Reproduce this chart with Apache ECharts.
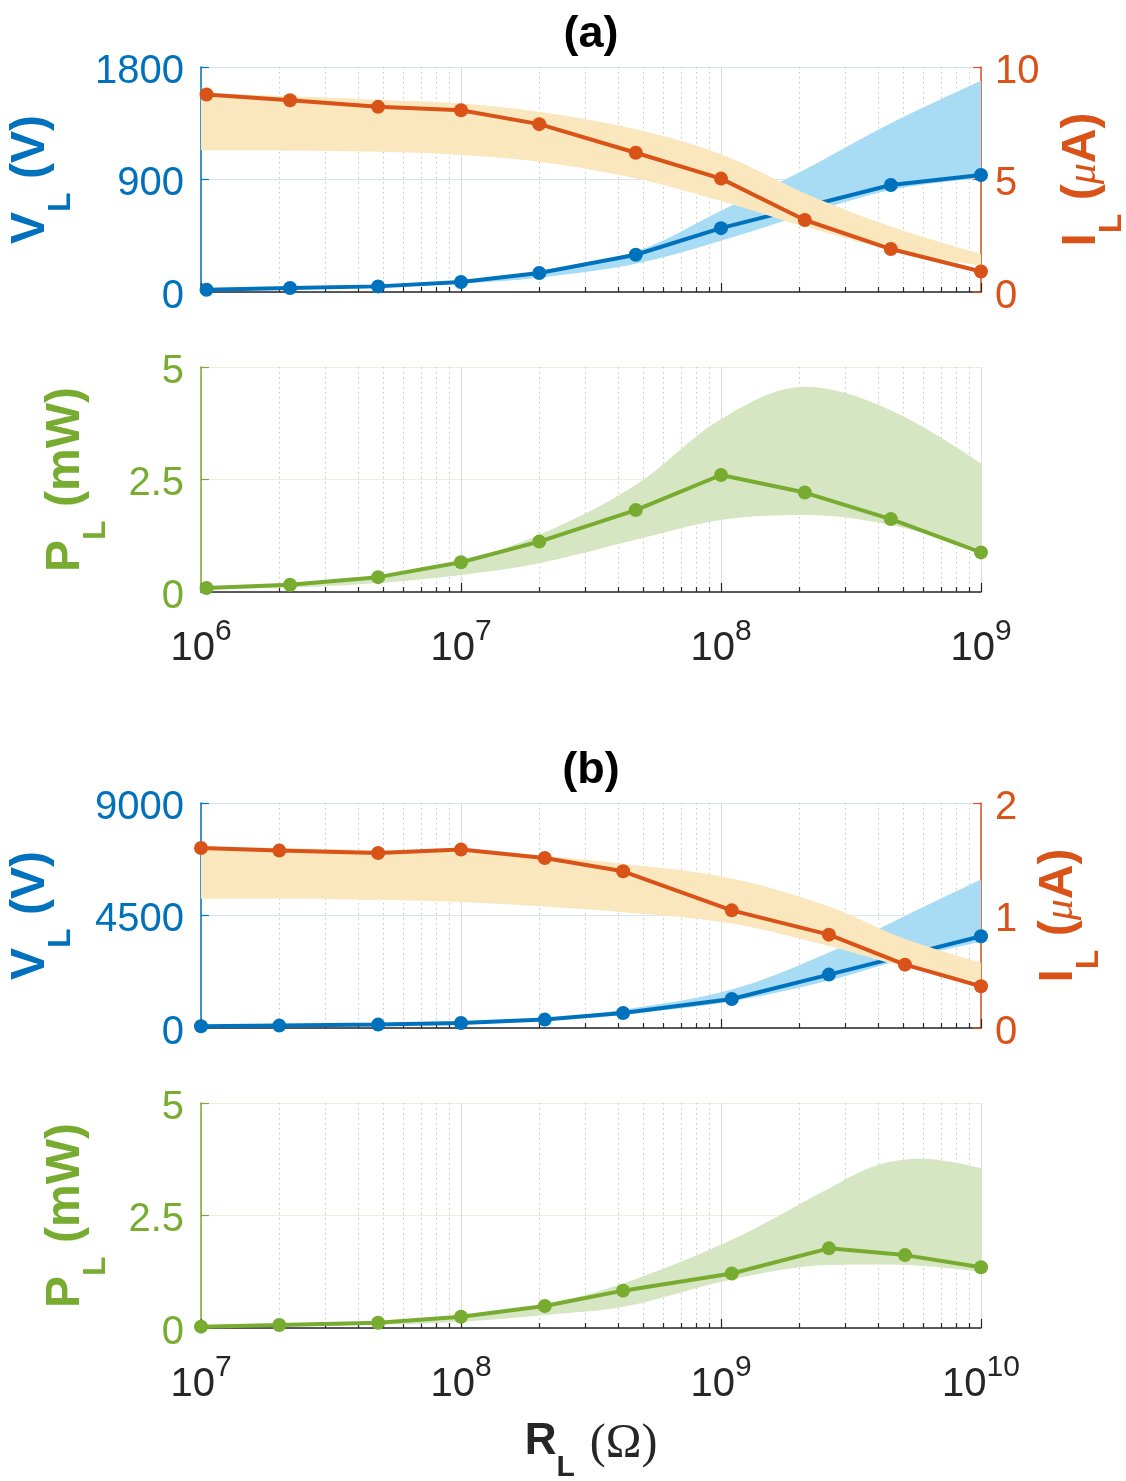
<!DOCTYPE html>
<html><head><meta charset="utf-8">
<script src="https://cdn.jsdelivr.net/npm/echarts@6/dist/echarts.min.js"></script>
<style>html,body{margin:0;padding:0;background:#fff}#c{width:1126px;height:1481px}</style>
</head><body><div id="c"></div>
<script>
// ---------------- data ----------------
// panel (a): R_L from 1e6 to 1e9 ohm
const R_A   = [1.05e6, 2.2e6, 4.8e6, 1e7, 2e7, 4.7e7, 1e8, 2.1e8, 4.5e8, 1e9];
const R_A_V = [1.05e6, 2.2e6, 4.8e6, 1e7, 2e7, 4.7e7, 1e8, 4.5e8, 1e9];
const V_A   = [18, 32, 45, 80, 152, 298, 511, 856, 936];                 // V
const I_A   = [8.78, 8.52, 8.23, 8.08, 7.46, 6.19, 5.04, 3.20, 1.91, 0.91]; // uA
const P_A   = [0.09, 0.16, 0.33, 0.66, 1.12, 1.82, 2.60, 2.21, 1.62, 0.88]; // mW

const BR_A     = [1e6, 2.2e6, 4.8e6, 1e7, 2e7, 4.7e7, 1e8, 2.1e8, 4.5e8, 1e9];
const V_A_HI   = [20, 34, 50, 88, 170, 324, 650, 980, 1350, 1690];
const V_A_LO   = [14, 26, 38, 68, 115, 226, 410, 620, 816, 912];
const I_A_HI   = [8.85, 8.70, 8.55, 8.38, 8.01, 7.23, 6.12, 4.39, 2.91, 1.69];
const I_A_LO   = [6.30, 6.28, 6.23, 6.09, 5.79, 5.05, 4.05, 2.91, 1.88, 1.17];
const P_A_HI   = [0.12, 0.19, 0.36, 0.68, 1.27, 2.38, 3.84, 4.56, 4.04, 2.86];
const P_A_LO   = [0.06, 0.10, 0.20, 0.38, 0.64, 1.16, 1.60, 1.71, 1.49, 0.95];

// panel (b): R_L from 1e7 to 1e10 ohm
const R_B   = [1e7, 2e7, 4.8e7, 1e8, 2.1e8, 4.2e8, 1.1e9, 2.6e9, 5.1e9, 1e10];
const R_B_V = [1e7, 2e7, 4.8e7, 1e8, 2.1e8, 4.2e8, 1.1e9, 2.6e9, 1e10];
const V_B   = [68, 96, 136, 200, 336, 600, 1160, 2136, 3668];
const I_B   = [1.60, 1.577, 1.556, 1.586, 1.511, 1.393, 1.046, 0.830, 0.563, 0.371];
const P_B   = [0.03, 0.066, 0.118, 0.25, 0.49, 0.83, 1.21, 1.77, 1.62, 1.35];

const BR_B     = [1e7, 2e7, 4.8e7, 1e8, 2.1e8, 4.2e8, 1.1e9, 2.6e9, 5e9, 1e10];
const V_B_HI   = [70, 100, 150, 230, 400, 734, 1536, 3020, 4440, 5940];
const V_B_LO   = [60, 85, 120, 180, 300, 534, 1068, 1900, 2736, 3450];
const I_B_HI   = [1.615, 1.60, 1.58, 1.56, 1.53, 1.46, 1.33, 1.08, 0.80, 0.58];
const I_B_LO   = [1.15, 1.15, 1.14, 1.12, 1.08, 1.03, 0.93, 0.73, 0.55, 0.41];
const BR_B_P   = [1e7, 2e7, 4.8e7, 1e8, 2.1e8, 4.2e8, 1.1e9, 2.6e9, 4e9, 6e9, 1e10];
const P_B_HI   = [0.035, 0.07, 0.14, 0.27, 0.53, 0.99, 1.96, 3.10, 3.62, 3.76, 3.55];
const P_B_LO   = [0.02, 0.035, 0.07, 0.14, 0.29, 0.47, 1.08, 1.40, 1.41, 1.38, 1.25];

// axis ticks
const MINOR_A = [2e6,3e6,4e6,5e6,6e6,7e6,8e6,9e6, 2e7,3e7,4e7,5e7,6e7,7e7,8e7,9e7, 2e8,3e8,4e8,5e8,6e8,7e8,8e8,9e8];
const MINOR_B = [2e7,3e7,4e7,5e7,6e7,7e7,8e7,9e7, 2e8,3e8,4e8,5e8,6e8,7e8,8e8,9e8, 2e9,3e9,4e9,5e9,6e9,7e9,8e9,9e9];

// ---------------- styles ----------------
const COL_V = '#0072BD', COL_I = '#D95319', COL_P = '#77AC30';
const BAND_V = '#a7dcf4', BAND_I = '#fae7bd', BAND_P = '#d6e6c2';
const AX = '#262626';
const FONT = 'Liberation Sans', SERIF = 'Liberation Serif';

const zip = (a, b) => a.map((v, i) => [v, b[i]]);

function xAx(gi, min, max, showLabels) {
  return {
    type: 'log', logBase: 10, gridIndex: gi, min: min, max: max,
    axisLine: { show: true, onZero: false, lineStyle: { color: AX, width: 1.5 } },
    axisTick: { show: true, inside: true, length: 9, lineStyle: { color: AX, width: 1.2 } },
    axisLabel: {
      show: showLabels, margin: 25, color: AX, hideOverlap: false,
      formatter: v => '{b|10}{s|' + Math.round(Math.log10(v)) + '}',
      rich: {
        b: { fontSize: 40, lineHeight: 40, fontFamily: FONT, color: AX, verticalAlign: 'top', padding: [11.5, 0, 0, 0] },
        s: { fontSize: 30, lineHeight: 30, fontFamily: FONT, color: AX, verticalAlign: 'top' }
      }
    },
    splitLine: { show: true, lineStyle: { color: '#dcdcdc', width: 1 } },
    minorTick: { show: false }, minorSplitLine: { show: false }
  };
}

function nameRich(color) {
  return {
    color: color, fontFamily: FONT, fontWeight: 'bold', fontSize: 48,
    rich: {
      m: { fontSize: 48, lineHeight: 48, fontWeight: 'bold', color: color, fontFamily: FONT, verticalAlign: 'top' },
      s: { fontSize: 32, lineHeight: 32, fontWeight: 'bold', color: color, fontFamily: FONT, verticalAlign: 'top', padding: [38, 0, 0, 0] },
      u: { fontSize: 42, lineHeight: 42, fontWeight: 'normal', fontStyle: 'italic', color: color, fontFamily: SERIF, verticalAlign: 'top', padding: [5, 0, 0, 0] }
    }
  };
}

function yAx(gi, pos, min, max, interval, color, name, nameGap, splitColor) {
  return {
    type: 'value', gridIndex: gi, position: pos, min: min, max: max, interval: interval,
    axisLine: { show: true, onZero: false, lineStyle: { color: color, width: 1.5 } },
    axisTick: { show: true, inside: true, length: 8, lineStyle: { color: color, width: 1.2 } },
    axisLabel: { color: color, fontSize: 40, fontFamily: FONT, margin: pos === 'left' ? 17 : 14,
                 verticalAlign: 'top', lineHeight: 9, formatter: v => String(v) },
    splitLine: { show: !!splitColor, lineStyle: { color: splitColor || '#eee', width: 1 } },
    name: name, nameLocation: 'middle', nameRotate: 90, nameGap: nameGap, nameMoveOverlap: false,
    nameTextStyle: nameRich(color)
  };
}

function lineS(xi, yi, data, color, z) {
  return {
    type: 'line', xAxisIndex: xi, yAxisIndex: yi, data: data, z: z, clip: false,
    symbol: 'circle', symbolSize: 14, showSymbol: true,
    lineStyle: { color: color, width: 4 }, itemStyle: { color: color }, silent: true
  };
}

// band = invisible lower line + stacked (upper - lower) area; value column first so y is the stacked dim
function bandS(xi, yi, xs, lo, hi, color, z, id) {
  const sm = 0.35;
  return [
    { type: 'line', xAxisIndex: xi, yAxisIndex: yi, stack: id, z: z, smooth: sm, symbol: 'none', silent: true,
      encode: { x: 1, y: 0 }, data: zip(lo, xs), lineStyle: { width: 0, opacity: 0 } },
    { type: 'line', xAxisIndex: xi, yAxisIndex: yi, stack: id, z: z, smooth: sm, symbol: 'none', silent: true,
      encode: { x: 1, y: 0 }, data: zip(hi.map((h, i) => h - lo[i]), xs), lineStyle: { width: 0, opacity: 0 },
      areaStyle: { color: color, opacity: 1 } }
  ];
}

function minorS(xi, yi, ticks) {
  return {
    type: 'custom', xAxisIndex: xi, yAxisIndex: yi, z: 1, silent: true, clip: false,
    data: ticks.map(t => [t, 0]),
    renderItem: (params, api) => {
      const cs = params.coordSys;
      const px = Math.round(api.coord([api.value(0), api.value(1)])[0]) + 0.5;
      return { type: 'group', children: [
        { type: 'line', shape: { x1: px, y1: cs.y, x2: px, y2: cs.y + cs.height },
          style: { stroke: '#c4c4c4', lineWidth: 1, lineDash: [1.5, 3.5] } },
        { type: 'line', shape: { x1: px, y1: cs.y + cs.height, x2: px, y2: cs.y + cs.height - 5 },
          style: { stroke: AX, lineWidth: 1.2 } }
      ] };
    }
  };
}

const gridBase = { left: 201, right: 145, height: 225, containLabel: false, outerBoundsMode: 'none' };
const titleStyle = { fontSize: 45, lineHeight: 45, fontWeight: 'bold', color: '#000', fontFamily: FONT };

const option = {
  animation: false,
  backgroundColor: '#fff',
  textStyle: { fontFamily: FONT },
  title: [
    { text: '(a)', left: 591, top: 12, textAlign: 'center', padding: 0, textStyle: titleStyle },
    { text: '(b)', left: 591, top: 748, textAlign: 'center', padding: 0, textStyle: titleStyle },
    { text: '{r|R}{s|L}{sp| }{o|(Ω)}', left: 591, top: 1420, textAlign: 'center', padding: 0,
      textStyle: {
        fontSize: 44, fontFamily: FONT, color: AX,
        rich: {
          r: { fontSize: 44, lineHeight: 44, fontWeight: 'bold', fontFamily: FONT, color: AX, verticalAlign: 'top' },
          s: { fontSize: 30, lineHeight: 30, fontWeight: 'bold', fontFamily: FONT, color: AX, verticalAlign: 'top', padding: [33, 0, 0, 0] },
          sp: { fontSize: 60, lineHeight: 44, fontFamily: SERIF, color: AX, verticalAlign: 'top' },
          o: { fontSize: 48, lineHeight: 48, fontWeight: 'normal', fontFamily: SERIF, color: AX, verticalAlign: 'top' }
        }
      } }
  ],
  grid: [
    Object.assign({}, gridBase, { top: 67 }),
    Object.assign({}, gridBase, { top: 367 }),
    Object.assign({}, gridBase, { top: 803 }),
    Object.assign({}, gridBase, { top: 1103 })
  ],
  xAxis: [
    xAx(0, 1e6, 1e9, false),
    xAx(1, 1e6, 1e9, true),
    xAx(2, 1e7, 1e10, false),
    xAx(3, 1e7, 1e10, true)
  ],
  yAxis: [
    yAx(0, 'left', 0, 1800, 900, COL_V, '{m|V}{s|L}{m| (V)}', 146, '#d6e7f3'),
    yAx(0, 'right', 0, 10, 5, COL_I, '{m|I}{s|L}{m| (}{u|μ}{m|A)}', 77, null),
    yAx(1, 'left', 0, 5, 2.5, COL_P, '{m|P}{s|L}{m| (mW)}', 111, '#e7f0dc'),
    yAx(2, 'left', 0, 9000, 4500, COL_V, '{m|V}{s|L}{m| (V)}', 146, '#d6e7f3'),
    yAx(2, 'right', 0, 2, 1, COL_I, '{m|I}{s|L}{m| (}{u|μ}{m|A)}', 54, null),
    yAx(3, 'left', 0, 5, 2.5, COL_P, '{m|P}{s|L}{m| (mW)}', 111, '#e7f0dc')
  ],
  series: [].concat(
    [minorS(0, 0, MINOR_A), minorS(1, 2, MINOR_A), minorS(2, 3, MINOR_B), minorS(3, 5, MINOR_B)],
    // (a) top
    bandS(0, 0, BR_A, V_A_LO, V_A_HI, BAND_V, 2, 'va'),
    [lineS(0, 0, zip(R_A_V, V_A), COL_V, 3)],
    bandS(0, 1, BR_A, I_A_LO, I_A_HI, BAND_I, 4, 'ia'),
    [lineS(0, 1, zip(R_A, I_A), COL_I, 5)],
    // (a) bottom
    bandS(1, 2, BR_A, P_A_LO, P_A_HI, BAND_P, 2, 'pa'),
    [lineS(1, 2, zip(R_A, P_A), COL_P, 3)],
    // (b) top
    bandS(2, 3, BR_B, V_B_LO, V_B_HI, BAND_V, 2, 'vb'),
    [lineS(2, 3, zip(R_B_V, V_B), COL_V, 3)],
    bandS(2, 4, BR_B, I_B_LO, I_B_HI, BAND_I, 4, 'ib'),
    [lineS(2, 4, zip(R_B, I_B), COL_I, 5)],
    // (b) bottom
    bandS(3, 5, BR_B_P, P_B_LO, P_B_HI, BAND_P, 2, 'pb'),
    [lineS(3, 5, zip(R_B, P_B), COL_P, 3)]
  )
};

const chart = echarts.init(document.getElementById('c'), null, { renderer: 'canvas' });
chart.setOption(option);
</script>
</body></html>
